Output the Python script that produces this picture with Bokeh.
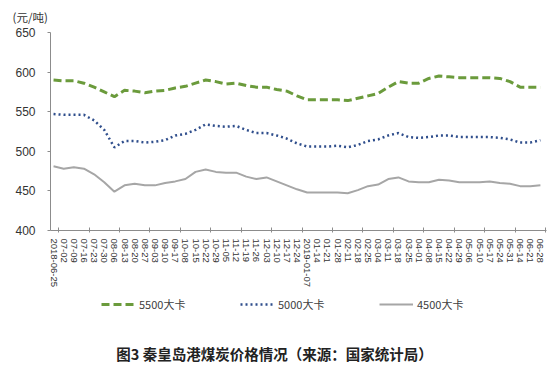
from bokeh.plotting import figure
from bokeh.models import Range1d, FixedTicker, Legend, LegendItem, Title, Label
from bokeh.layouts import column
from bokeh.embed import file_html
from bokeh.resources import INLINE

dates = ["2018-06-25", "07-02", "07-09", "07-16", "07-23", "07-30", "08-06", "08-13",
         "08-20", "08-27", "09-03", "09-10", "09-17", "10-08", "10-15", "10-22",
         "10-29", "11-05", "11-12", "11-19", "11-26", "12-03", "12-10", "12-17",
         "12-24", "2019-01-07", "01-14", "01-21", "01-28", "02-11", "02-18", "02-25",
         "03-04", "03-11", "03-18", "03-25", "04-01", "04-08", "04-15", "04-22",
         "04-29", "05-06", "05-10", "05-17", "05-24", "05-31", "06-14", "06-21", "06-28"]

price_5500 = [590, 589, 589, 586, 581, 575, 569, 577, 576, 574, 576, 577, 580,
              582, 586, 590, 588, 585, 586, 583, 581, 581, 578, 576, 570,
              565, 565, 565, 565, 564, 567, 570, 573, 581, 588, 586, 586,
              592, 595, 594, 593, 593, 593, 593, 592, 588, 581, 581, 581]

price_5000 = [547, 546, 546, 546, 539, 527, 505, 513, 513, 511, 512, 514, 520,
              522, 527, 534, 532, 531, 532, 527, 523, 523, 520, 516, 510,
              506, 506, 506, 507, 505, 508, 513, 515, 520, 523, 518, 517,
              518, 520, 520, 518, 518, 518, 518, 517, 515, 511, 511, 514]

price_4500 = [481, 478, 480, 478, 471, 461, 449, 457, 459, 457, 457, 460, 462,
              465, 474, 477, 474, 473, 473, 468, 465, 467, 462, 457, 452,
              448, 448, 448, 448, 447, 451, 456, 458, 465, 467, 462, 461,
              461, 464, 463, 461, 461, 461, 462, 460, 459, 456, 456, 457]

series_names = ["5500大卡", "5000大卡", "4500大卡"]
series_colors = ["#6B9B3C", "#2F4E8C", "#A6A6A6"]
series_widths = [3, 2.5, 2]
series_dash = ["8 4", "2 3", "solid"]
y_ticks = [400, 450, 500, 550, 600, 650]
unit_text = "(元/吨)"
caption_text = "图3 秦皇岛港煤炭价格情况（来源：国家统计局）"

x = list(range(len(dates)))
all_series = [price_5500, price_5000, price_4500]

# ---------------- main chart ----------------
p = figure(width=555, height=292, output_backend="svg", toolbar_location=None,
           x_range=Range1d(-0.3, 48.6), y_range=Range1d(400, 650),
           min_border_left=50, min_border_right=9, min_border_top=32, min_border_bottom=62)
p.outline_line_color = None
p.grid.visible = False

for vals, c, w, d in zip(all_series, series_colors, series_widths, series_dash):
    p.line(x, vals, line_color=c, line_width=w, line_dash=d)

xa = p.xaxis[0]
xa.ticker = FixedTicker(ticks=x, minor_ticks=[0.5 + 3 * m for m in range(17)])
xa.major_label_overrides = {i: d for i, d in enumerate(dates)}
xa.major_label_orientation = "vertical"
xa.major_label_text_font = "Liberation Sans"
xa.major_label_text_font_size = "9.5px"
xa.major_label_text_color = "#333333"
xa.major_tick_out = 0
xa.major_tick_in = 0
xa.minor_tick_in = 3
xa.minor_tick_out = 2
xa.minor_tick_line_color = "#8C8C8C"
xa.axis_line_color = "#8C8C8C"
xa.major_label_standoff = 6

ya = p.yaxis[0]
ya.ticker = FixedTicker(ticks=y_ticks)
ya.major_label_text_font = "Liberation Sans"
ya.major_label_text_font_size = "12px"
ya.major_label_text_color = "#333333"
ya.axis_line_color = "#8C8C8C"
ya.major_tick_line_color = "#8C8C8C"
ya.major_tick_out = 3
ya.major_tick_in = 0
ya.minor_tick_line_color = None
ya.major_label_standoff = 12

p.title = Title(text=unit_text, align="left", vertical_align="top", offset=-38, standoff=12,
                text_font="Noto Sans CJK SC", text_font_size="11.5px",
                text_font_style="normal", text_color="#333333")

# ---------------- legend + caption strip ----------------
# (frames in a column are aligned, so screen x here is measured from x = 50)
q = figure(width=555, height=76, output_backend="svg", toolbar_location=None,
           x_range=Range1d(0, 1), y_range=Range1d(0, 1),
           min_border=0, x_axis_type=None, y_axis_type=None)
q.outline_line_color = None
q.grid.visible = False

items = []
for name, vals, c, w, d in zip(series_names, all_series, series_colors, series_widths, series_dash):
    # same series drawn out of this strip's view; only its legend entry shows
    r = q.line(x, vals, line_color=c, line_width=w, line_dash=d)
    items.append(LegendItem(label=name, renderers=[r]))

legend = Legend(items=items, orientation="horizontal", location=(51, 56),
                glyph_width=34, glyph_height=14, label_height=14, label_width=101,
                label_standoff=4, spacing=0, padding=0, margin=0,
                border_line_color=None, background_fill_alpha=0,
                label_text_font="Noto Sans CJK SC", label_text_font_size="11px",
                label_text_color="#404040")
q.add_layout(legend)

q.add_layout(Label(x=224, y=15, x_units="screen", y_units="screen", text=caption_text,
                   text_baseline="middle", text_align="center", text_font="Noto Sans CJK SC",
                   text_font_size="14.5px", text_font_style="bold", text_color="#222222"))

layout = column(p, q, spacing=0)
open("out.html", "w").write(file_html(layout, INLINE))
